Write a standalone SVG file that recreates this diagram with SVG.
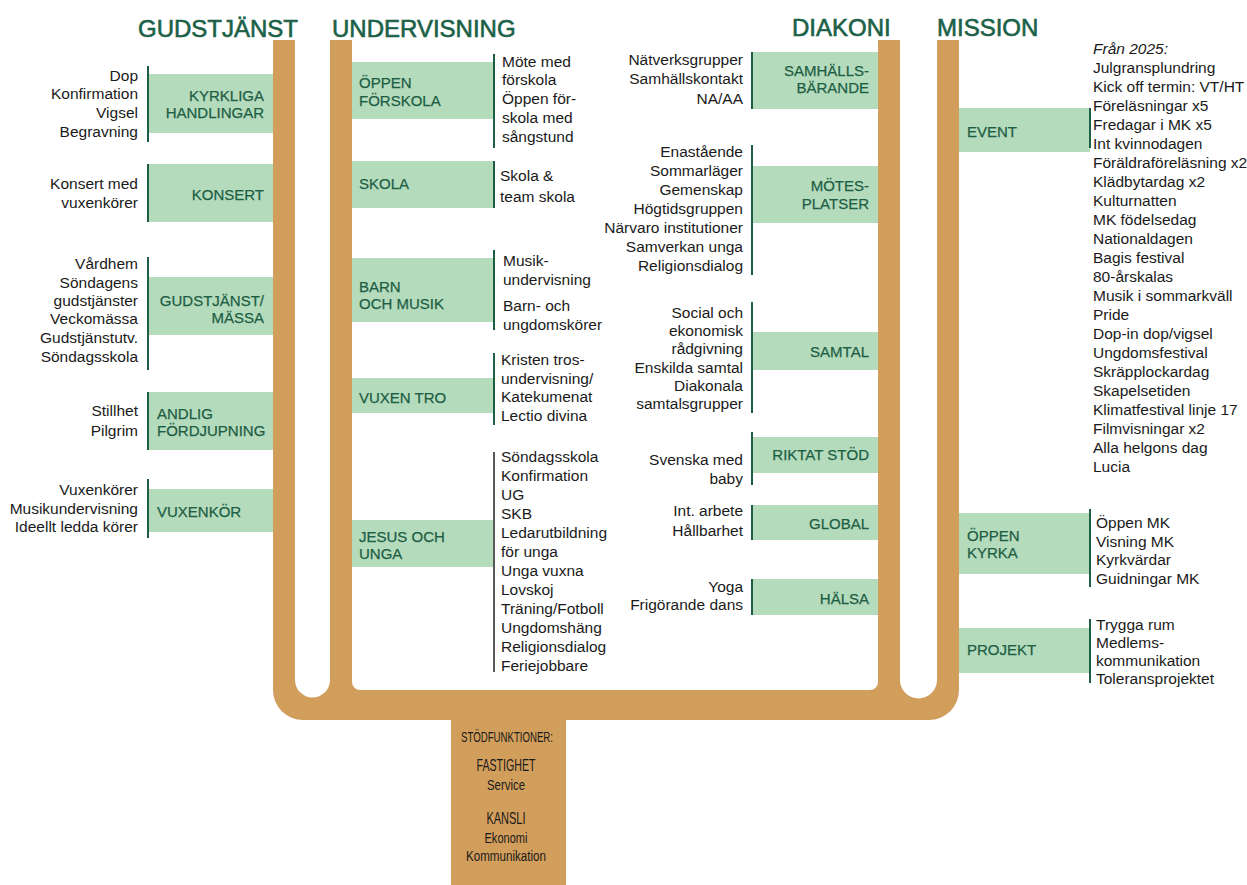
<svg xmlns="http://www.w3.org/2000/svg" width="1247" height="885" viewBox="0 0 1247 885">
<style>
.h{font-family:"Liberation Sans",Arial,sans-serif;font-size:24px;fill:#1B6147;stroke:#1B6147;stroke-width:0.6}
.box{fill:#B5DBBD}
.bt{font-family:"Liberation Sans",Arial,sans-serif;font-size:15px;fill:#1D5E44;stroke:#1D5E44;stroke-width:0.25}
.li{font-family:"Liberation Sans",Arial,sans-serif;font-size:15.5px;fill:#1a1a1a}
.e{text-anchor:end}
.ln{stroke:#1D5E44;stroke-width:2;fill:none}
.lk{stroke:#222;stroke-width:1.5;fill:none}
.tr{font-family:"Liberation Sans",Arial,sans-serif;fill:#1a1a1a;text-anchor:middle}
</style>
<rect width="1247" height="885" fill="#fff"/>

<!-- headers -->
<g id="headers">
<text class="h" x="138" y="37">GUDSTJÄNST</text>
<text class="h" x="332" y="37">UNDERVISNING</text>
<text class="h" x="792" y="36">DIAKONI</text>
<text class="h" x="937" y="36">MISSION</text>
</g>

<!-- GUDSTJÄNST nodes -->
<g id="kyrkliga">
<rect class="box" x="148" y="74" width="127" height="59"/>
<text class="bt e" x="264" y="101">KYRKLIGA</text>
<text class="bt e" x="264" y="118">HANDLINGAR</text>
<text class="li e"><tspan x="138" y="81">Dop</tspan><tspan x="138" y="99">Konfirmation</tspan><tspan x="138" y="118">Vigsel</tspan><tspan x="138" y="137">Begravning</tspan></text>
</g>
<g id="konsert">
<rect class="box" x="148" y="164" width="127" height="58"/>
<text class="bt e" x="264" y="200">KONSERT</text>
<text class="li e"><tspan x="138" y="189">Konsert med</tspan><tspan x="138" y="208">vuxenkörer</tspan></text>
</g>
<g id="gudstjanst-massa">
<rect class="box" x="148" y="277" width="127" height="58"/>
<text class="bt e" x="264" y="306">GUDSTJÄNST/</text>
<text class="bt e" x="264" y="323">MÄSSA</text>
<text class="li e"><tspan x="138" y="269">Vårdhem</tspan><tspan x="138" y="288">Söndagens</tspan><tspan x="138" y="306">gudstjänster</tspan><tspan x="138" y="324">Veckomässa</tspan><tspan x="138" y="343">Gudstjänstutv.</tspan><tspan x="138" y="362">Söndagsskola</tspan></text>
</g>
<g id="andlig">
<rect class="box" x="148" y="392" width="127" height="58"/>
<text class="bt" x="157" y="419">ANDLIG</text>
<text class="bt" x="157" y="436">FÖRDJUPNING</text>
<text class="li e"><tspan x="138" y="416">Stillhet</tspan><tspan x="138" y="436">Pilgrim</tspan></text>
</g>
<g id="vuxenkor">
<rect class="box" x="148" y="489" width="127" height="43"/>
<text class="bt" x="157" y="517">VUXENKÖR</text>
<text class="li e"><tspan x="138" y="495">Vuxenkörer</tspan><tspan x="138" y="514">Musikundervisning</tspan><tspan x="138" y="532">Ideellt ledda körer</tspan></text>
</g>

<!-- UNDERVISNING nodes -->
<g id="oppen-forskola">
<rect class="box" x="350" y="62" width="144" height="57"/>
<text class="bt" x="359" y="88">ÖPPEN</text>
<text class="bt" x="359" y="106">FÖRSKOLA</text>
<text class="li"><tspan x="502" y="67">Möte med</tspan><tspan x="502" y="85">förskola</tspan><tspan x="502" y="104">Öppen för-</tspan><tspan x="502" y="123">skola med</tspan><tspan x="502" y="142">sångstund</tspan></text>
</g>
<g id="skola">
<rect class="box" x="350" y="161" width="144" height="47"/>
<text class="bt" x="359" y="189">SKOLA</text>
<text class="li"><tspan x="500" y="181">Skola &amp;</tspan><tspan x="500" y="202">team skola</tspan></text>
</g>
<g id="barn-musik">
<rect class="box" x="350" y="258" width="144" height="64"/>
<text class="bt" x="359" y="292">BARN</text>
<text class="bt" x="359" y="309">OCH MUSIK</text>
<text class="li"><tspan x="503" y="266">Musik-</tspan><tspan x="503" y="285">undervisning</tspan><tspan x="503" y="311">Barn- och</tspan><tspan x="503" y="330">ungdomskörer</tspan></text>
</g>
<g id="vuxen-tro">
<rect class="box" x="350" y="378" width="144" height="35"/>
<text class="bt" x="359" y="403">VUXEN TRO</text>
<text class="li"><tspan x="501" y="365">Kristen tros-</tspan><tspan x="501" y="384">undervisning/</tspan><tspan x="501" y="402">Katekumenat</tspan><tspan x="501" y="421">Lectio divina</tspan></text>
</g>
<g id="jesus-unga">
<rect class="box" x="350" y="520" width="143" height="47"/>
<text class="bt" x="359" y="542">JESUS OCH</text>
<text class="bt" x="359" y="559">UNGA</text>
<text class="li"><tspan x="501" y="462">Söndagsskola</tspan><tspan x="501" y="481">Konfirmation</tspan><tspan x="501" y="500">UG</tspan><tspan x="501" y="519">SKB</tspan><tspan x="501" y="538">Ledarutbildning</tspan><tspan x="501" y="557">för unga</tspan><tspan x="501" y="576">Unga vuxna</tspan><tspan x="501" y="595">Lovskoj</tspan><tspan x="501" y="614">Träning/Fotboll</tspan><tspan x="501" y="633">Ungdomshäng</tspan><tspan x="501" y="652">Religionsdialog</tspan><tspan x="501" y="671">Feriejobbare</tspan></text>
</g>

<!-- DIAKONI nodes -->
<g id="samhallsbarande">
<rect class="box" x="752" y="52" width="128" height="57"/>
<text class="bt e" x="869" y="76">SAMHÄLLS-</text>
<text class="bt e" x="869" y="93">BÄRANDE</text>
<text class="li e"><tspan x="743" y="65">Nätverksgrupper</tspan><tspan x="743" y="84">Samhällskontakt</tspan><tspan x="743" y="104">NA/AA</tspan></text>
</g>
<g id="motesplatser">
<rect class="box" x="752" y="166" width="128" height="57"/>
<text class="bt e" x="869" y="191">MÖTES-</text>
<text class="bt e" x="869" y="209">PLATSER</text>
<text class="li e"><tspan x="743" y="157">Enastående</tspan><tspan x="743" y="176">Sommarläger</tspan><tspan x="743" y="195">Gemenskap</tspan><tspan x="743" y="214">Högtidsgruppen</tspan><tspan x="743" y="233">Närvaro institutioner</tspan><tspan x="743" y="252">Samverkan unga</tspan><tspan x="743" y="271">Religionsdialog</tspan></text>
</g>
<g id="samtal">
<rect class="box" x="752" y="332" width="128" height="38"/>
<text class="bt e" x="869" y="357">SAMTAL</text>
<text class="li e"><tspan x="743" y="318">Social och</tspan><tspan x="743" y="336">ekonomisk</tspan><tspan x="743" y="354">rådgivning</tspan><tspan x="743" y="373">Enskilda samtal</tspan><tspan x="743" y="391">Diakonala</tspan><tspan x="743" y="409">samtalsgrupper</tspan></text>
</g>
<g id="riktat-stod">
<rect class="box" x="752" y="437" width="128" height="36"/>
<text class="bt e" x="869" y="460">RIKTAT STÖD</text>
<text class="li e"><tspan x="743" y="465">Svenska med</tspan><tspan x="743" y="484">baby</tspan></text>
</g>
<g id="global">
<rect class="box" x="752" y="505" width="128" height="35"/>
<text class="bt e" x="869" y="529">GLOBAL</text>
<text class="li e"><tspan x="743" y="516">Int. arbete</tspan><tspan x="743" y="536">Hållbarhet</tspan></text>
</g>
<g id="halsa">
<rect class="box" x="752" y="579" width="128" height="36"/>
<text class="bt e" x="869" y="604">HÄLSA</text>
<text class="li e"><tspan x="743" y="592">Yoga</tspan><tspan x="743" y="610">Frigörande dans</tspan></text>
</g>

<!-- MISSION nodes -->
<g id="event">
<rect class="box" x="957" y="108" width="133" height="44"/>
<text class="bt" x="967" y="137">EVENT</text>
<text class="li"><tspan x="1093" y="54" font-style="italic">Från 2025:</tspan><tspan x="1093" y="73">Julgransplundring</tspan><tspan x="1093" y="92">Kick off termin: VT/HT</tspan><tspan x="1093" y="111">Föreläsningar x5</tspan><tspan x="1093" y="130">Fredagar i MK x5</tspan><tspan x="1093" y="149">Int kvinnodagen</tspan><tspan x="1093" y="168">Föräldraföreläsning x2</tspan><tspan x="1093" y="187">Klädbytardag x2</tspan><tspan x="1093" y="206">Kulturnatten</tspan><tspan x="1093" y="225">MK födelsedag</tspan><tspan x="1093" y="244">Nationaldagen</tspan><tspan x="1093" y="263">Bagis festival</tspan><tspan x="1093" y="282">80-årskalas</tspan><tspan x="1093" y="301">Musik i sommarkväll</tspan><tspan x="1093" y="320">Pride</tspan><tspan x="1093" y="339">Dop-in dop/vigsel</tspan><tspan x="1093" y="358">Ungdomsfestival</tspan><tspan x="1093" y="377">Skräpplockardag</tspan><tspan x="1093" y="396">Skapelsetiden</tspan><tspan x="1093" y="415">Klimatfestival linje 17</tspan><tspan x="1093" y="434">Filmvisningar x2</tspan><tspan x="1093" y="453">Alla helgons dag</tspan><tspan x="1093" y="472">Lucia</tspan></text>
</g>
<g id="oppen-kyrka">
<rect class="box" x="957" y="513" width="133" height="61"/>
<text class="bt" x="967" y="541">ÖPPEN</text>
<text class="bt" x="967" y="558">KYRKA</text>
<text class="li"><tspan x="1096" y="528">Öppen MK</tspan><tspan x="1096" y="547">Visning MK</tspan><tspan x="1096" y="565">Kyrkvärdar</tspan><tspan x="1096" y="584">Guidningar MK</tspan></text>
</g>
<g id="projekt">
<rect class="box" x="957" y="628" width="133" height="45"/>
<text class="bt" x="967" y="655">PROJEKT</text>
<text class="li"><tspan x="1096" y="630">Trygga rum</tspan><tspan x="1096" y="648">Medlems-</tspan><tspan x="1096" y="666">kommunikation</tspan><tspan x="1096" y="684">Toleransprojektet</tspan></text>
</g>

<!-- connectors: bracket lines -->
<g id="connectors">
<line class="ln" x1="148" y1="66" x2="148" y2="142"/>
<line class="ln" x1="148" y1="164" x2="148" y2="222"/>
<line class="ln" x1="148" y1="257" x2="148" y2="370"/>
<line class="ln" x1="148" y1="392" x2="148" y2="450"/>
<line class="ln" x1="148" y1="479" x2="148" y2="538"/>
<line class="ln" x1="494" y1="54" x2="494" y2="148"/>
<line class="ln" x1="494" y1="161" x2="494" y2="208"/>
<line class="ln" x1="494" y1="250" x2="494" y2="330"/>
<line class="ln" x1="494" y1="353" x2="494" y2="425"/>
<line class="lk" x1="494" y1="452" x2="494" y2="672"/>
<line class="ln" x1="752" y1="52" x2="752" y2="109"/>
<line class="ln" x1="752" y1="145" x2="752" y2="275"/>
<line class="ln" x1="752" y1="302" x2="752" y2="413"/>
<line class="ln" x1="752" y1="432" x2="752" y2="485"/>
<line class="ln" x1="752" y1="505" x2="752" y2="540"/>
<line class="ln" x1="752" y1="579" x2="752" y2="615"/>
<line class="ln" x1="1090" y1="108" x2="1090" y2="148"/>
<line class="ln" x1="1090" y1="509" x2="1090" y2="587"/>
<line class="ln" x1="1090" y1="619" x2="1090" y2="683"/>
</g>

<!-- tree trunk -->
<g id="tree">
<path fill="#D29E5C" d="M273,40 V690 A30,30 0 0 0 303,720 H451 V885 H566 V720 H929 A30,30 0 0 0 959,690 V40 H937 V680 A18.5,18.5 0 0 1 900,680 V40 H878 V682 A8,8 0 0 1 870,690 H360 A8,8 0 0 1 352,682 V40 H330 V680 A17.5,17.5 0 0 1 295,680 V40 Z"/>
</g>

<g id="stodfunktioner">
<text class="tr" x="507" y="742" font-size="14.5" textLength="92" lengthAdjust="spacingAndGlyphs">STÖDFUNKTIONER:</text>
<text class="tr" x="506" y="771" font-size="17" textLength="59" lengthAdjust="spacingAndGlyphs">FASTIGHET</text>
<text class="tr" x="506" y="790" font-size="15.5" textLength="38" lengthAdjust="spacingAndGlyphs">Service</text>
<text class="tr" x="506" y="824" font-size="17" textLength="39" lengthAdjust="spacingAndGlyphs">KANSLI</text>
<text class="tr" x="506" y="843" font-size="15.5" textLength="43" lengthAdjust="spacingAndGlyphs">Ekonomi</text>
<text class="tr" x="506" y="861" font-size="15.5" textLength="80" lengthAdjust="spacingAndGlyphs">Kommunikation</text>
</g>
</svg>
